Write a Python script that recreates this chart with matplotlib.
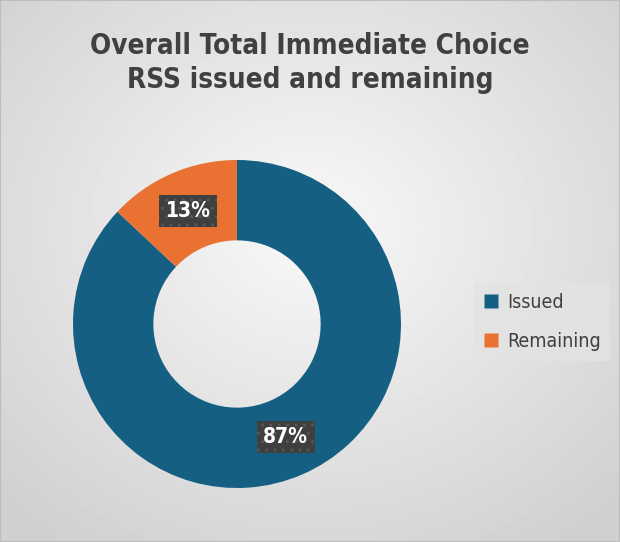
#!/usr/bin/env python3

import numpy as np
import matplotlib
matplotlib.use("Agg")
import matplotlib.pyplot as plt

# Data
categories = ["Issued", "Remaining"]
shares = [87, 13]
colors = ["#156082", "#e97132"]
title = "Overall Total Immediate Choice\nRSS issued and remaining"

plt.rcParams["font.family"] = ["DejaVu Sans"]
plt.rcParams["font.stretch"] = "condensed"

W, H = 620, 542
fig = plt.figure(figsize=(W / 100, H / 100), dpi=100)

# radial gradient background, lighter towards the upper middle
bg = fig.add_axes([0, 0, 1, 1], zorder=-1)
yy, xx = np.mgrid[0:H, 0:W]
d = np.sqrt(((xx - W / 2) / (W / 2)) ** 2 + ((yy - 0.42 * H) / (H / 2)) ** 2) / np.sqrt(2)
shade = 0.975 - 0.16 * np.clip(d, 0, 1)
bg.imshow(shade, cmap="gray", vmin=0, vmax=1, extent=[0, 1, 0, 1], aspect="auto")
bg.set_xlim(0, 1)
bg.set_ylim(0, 1)
bg.axis("off")
fig.patches.append(plt.Rectangle((0, 0), 1, 1, transform=fig.transFigure,
                                 fill=False, edgecolor="#bdbdbd", linewidth=1.5))

fig.text(0.5, 1 - 63 / H, title, ha="center", va="center", fontsize=20,
         fontweight="bold", color="#404040", linespacing=1.3,
         fontstretch="condensed")

# donut
cx, cy, R = 237, H - 324, 164
ax = fig.add_axes([(cx - R) / W, (cy - R) / H, 2 * R / W, 2 * R / H])
wedges, texts, autotexts = ax.pie(
    shares, colors=colors, startangle=90, counterclock=False,
    wedgeprops=dict(width=0.49, edgecolor="none"),
    autopct="%d%%", pctdistance=0.75,
)
for t in autotexts:
    t.set_color("white")
    t.set_fontsize(15)
    t.set_fontweight("bold")
    t.set_bbox(dict(boxstyle="square,pad=0.3", facecolor="#3f3f3f",
                    edgecolor="#575757", linewidth=0, hatch=".."))
ax.set_xlim(-1, 1)
ax.set_ylim(-1, 1)
ax.set_aspect("equal")
ax.axis("off")

handles = [plt.Line2D([], [], marker="s", linestyle="none", markersize=10,
                      markerfacecolor=c, markeredgecolor="none") for c in colors]
leg = fig.legend(handles, categories, loc="center left",
                 bbox_to_anchor=(464 / W, 1 - 322 / H),
                 frameon=True, fancybox=False, handletextpad=0.4,
                 labelspacing=1.05, borderpad=0.5, handlelength=0.8,
                 prop=dict(size=14, stretch="condensed"))
leg.get_frame().set_facecolor("#e3e3e3")
leg.get_frame().set_edgecolor("none")
for t in leg.get_texts():
    t.set_color("#404040")

fig.savefig("out.png", dpi=100)
